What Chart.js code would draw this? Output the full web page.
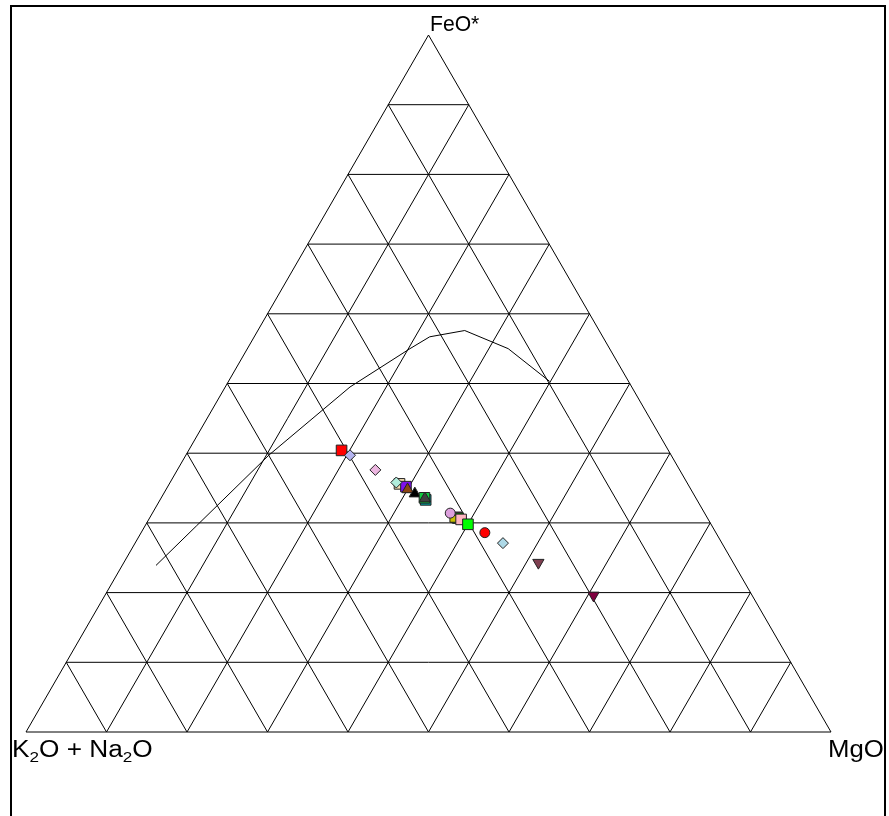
<!DOCTYPE html>
<html>
<head>
<meta charset="utf-8">
<script src="https://cdn.jsdelivr.net/npm/chart.js@4.4.1/dist/chart.umd.min.js"></script>
<style>
html, body { margin: 0; padding: 0; background: #fff; }
#wrap { width: 889px; height: 816px; }
</style>
</head>
<body>
<div id="wrap"><canvas id="afm" width="889" height="816"></canvas></div>
<script>
// AFM ternary: A = K2O + Na2O, F = FeO*, M = MgO (percent)
var gridSteps = [10, 20, 30, 40, 50, 60, 70, 80, 90];

// tholeiitic / calc-alkaline dividing line
var curveA = [71.9, 64.0, 50.0, 35.0, 24.8, 21.5, 16.7, 12.6, 9.8];
var curveF = [23.9, 29.6, 39.7, 49.5, 55.0, 56.7, 57.6, 55.0, 50.3];
var curveM = [4.2, 6.4, 10.3, 15.5, 20.2, 21.8, 25.7, 32.4, 39.9];

// samples, listed from the bottom of the stack to the top
var sampleA = [40.6, 39.9, 37.8, 35.8, 35.2, 36.1, 35.2, 34.6, 33.7, 33.7, 33.7, 31.1, 31.0, 31.6, 31.6, 30.7, 30.2, 28.7, 27.2, 24.2, 19.7];
var sampleF = [40.4, 39.7, 37.6, 35.6, 35.2, 35.8, 34.8, 34.2, 33.3, 33.6, 33.5, 30.8, 30.7, 30.6, 31.4, 30.5, 29.8, 28.6, 27.1, 24.3, 19.6];
var sampleM = [19.0, 20.4, 24.6, 28.6, 29.6, 28.1, 30.0, 31.2, 33.0, 32.7, 32.8, 38.1, 38.3, 37.8, 37.0, 38.8, 40.0, 42.7, 45.7, 51.5, 60.7];

var sampleShape = ['rect', 'rectRot', 'rectRot', 'rect', 'rect', 'rectRot', 'triangle', 'triangle', 'rect', 'rect', 'triangle',
  'rect', 'rect', 'rect', 'circle', 'rect', 'rect', 'circle', 'rectRot', 'triangle', 'triangle'];
var sampleColor = ['#ff0000', '#b4b4f0', '#ecb6e0', '#f5deb3', '#7f10ee', '#b0ecdc', '#8b4513', '#000000', '#009c9c', '#10c840', '#404040',
  '#ff00ff', '#008000', '#c8c000', '#dda0dd', '#ffb6c1', '#00ff00', '#ff0000', '#add8e6', '#7f3f50', '#800040'];
var sampleSize = [7.5, 5.5, 5.5, 7.5, 7.5, 5.5, 6.5, 6.5, 7.5, 7.5, 6.5, 7.5, 7.5, 5, 5, 7.5, 7.5, 5, 5.5, 6.5, 6.5];
var sampleTurn = [0, 0, 0, 0, 0, 0, 0, 0, 0, 0, 0, 0, 0, 0, 0, 0, 0, 0, 0, 180, 180];

var H = 50 * Math.sqrt(3);

function toXY(a, f, m) {
    var s = a + f + m;
    return { x: (m + f / 2) / s * 100, y: f / s * 100 * Math.sqrt(3) / 2 };
}

var datasets = [];
var curve = [];
for (var i = 0; i < curveA.length; i++) {
    curve.push(toXY(curveA[i], curveF[i], curveM[i]));
}
datasets.push({
    data: curve, showLine: true, pointRadius: 0, borderColor: '#000', borderWidth: 1,
    fill: false, tension: 0, order: 1000
});
for (var j = 0; j < sampleA.length; j++) {
    datasets.push({
        data: [toXY(sampleA[j], sampleF[j], sampleM[j])],
        pointStyle: sampleShape[j],
        pointRadius: sampleSize[j],
        pointRotation: sampleTurn[j],
        backgroundColor: sampleColor[j],
        borderColor: '#222',
        borderWidth: 1,
        order: sampleA.length - j
    });
}

function px(chart, a, f, m) {
    var p = toXY(a, f, m);
    return [chart.scales.x.getPixelForValue(p.x), chart.scales.y.getPixelForValue(p.y)];
}

function seg(ctx, p, q) {
    ctx.moveTo(p[0], p[1]);
    ctx.lineTo(q[0], q[1]);
}

var ternaryGrid = {
    id: 'ternaryGrid',
    beforeDatasetsDraw: function (chart) {
        var ctx = chart.ctx;
        ctx.save();
        ctx.strokeStyle = '#000';
        ctx.lineWidth = 1;
        ctx.beginPath();
        gridSteps.forEach(function (v) {
            var r = 100 - v;
            seg(ctx, px(chart, r, v, 0), px(chart, 0, v, r));   // constant FeO*
            seg(ctx, px(chart, r, 0, v), px(chart, 0, r, v));   // constant MgO
            seg(ctx, px(chart, v, r, 0), px(chart, v, 0, r));   // constant alkali
        });
        var A = px(chart, 100, 0, 0), F = px(chart, 0, 100, 0), M = px(chart, 0, 0, 100);
        ctx.moveTo(A[0], A[1]);
        ctx.lineTo(M[0], M[1]);
        ctx.lineTo(F[0], F[1]);
        ctx.closePath();
        ctx.stroke();
        ctx.restore();
    },
    afterDraw: function (chart) {
        var ctx = chart.ctx;
        ctx.save();
        // frame
        ctx.strokeStyle = '#000';
        ctx.lineWidth = 2;
        ctx.beginPath();
        ctx.moveTo(11, 830);
        ctx.lineTo(11, 6);
        ctx.lineTo(885, 6);
        ctx.lineTo(885, 830);
        ctx.stroke();

        ctx.fillStyle = '#000';
        ctx.textBaseline = 'alphabetic';
        ctx.textAlign = 'left';
        function rich(parts, x, y, size, stretch) {
            ctx.save();
            ctx.translate(x, y);
            ctx.scale(stretch, 1);
            var cx = 0;
            parts.forEach(function (p) {
                var fs = p[1] ? Math.round(size * 0.66) : size;
                ctx.font = fs + 'px "Liberation Sans", Arial, sans-serif';
                ctx.fillText(p[0], cx, p[1] ? 5 : 0);
                cx += ctx.measureText(p[0]).width;
            });
            ctx.restore();
        }
        rich([['FeO*', 0]], 430, 31, 22, 0.96);
        rich([['K', 0], ['2', 1], ['O + Na', 0], ['2', 1], ['O', 0]], 12, 757, 23, 1.14);
        rich([['MgO', 0]], 828, 757, 23, 1.12);
        ctx.restore();
    }
};

new Chart(document.getElementById('afm'), {
    type: 'scatter',
    data: { datasets: datasets },
    options: {
        responsive: false,
        animation: false,
        layout: { padding: { left: 26, right: 58, top: 35, bottom: 84 } },
        plugins: { legend: { display: false }, tooltip: { enabled: false } },
        scales: {
            x: { type: 'linear', min: 0, max: 100, display: false },
            y: { type: 'linear', min: 0, max: H, display: false }
        }
    },
    plugins: [ternaryGrid]
});
</script>
</body>
</html>
